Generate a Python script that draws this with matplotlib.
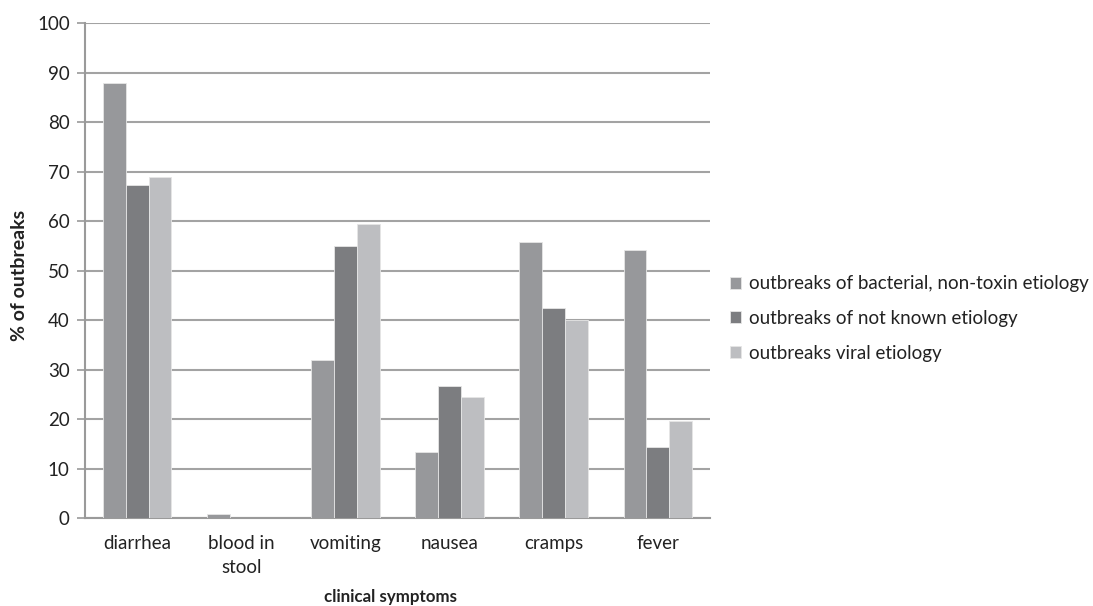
import numpy as np
import matplotlib.pyplot as plt

plt.rcParams['font.family'] = ['Lato', 'DejaVu Sans']

symptoms = ['diarrhea', 'blood in\nstool', 'vomiting', 'nausea', 'cramps', 'fever']
bacterial = [87.8, 0.8, 32.0, 13.4, 55.8, 54.2]
not_known = [67.3, 0.0, 54.9, 26.7, 42.5, 14.4]
viral = [68.9, 0.0, 59.4, 24.5, 40.1, 19.5]

series = [
    ('outbreaks of bacterial, non-toxin etiology', bacterial, '#97989b'),
    ('outbreaks of not known etiology', not_known, '#7c7d80'),
    ('outbreaks viral etiology', viral, '#bdbec1'),
]

fig = plt.figure(figsize=(10.93, 6.06), dpi=100)
ax = fig.add_axes([0.0778, 0.1452, 0.5718, 0.8168])

x = np.arange(len(symptoms))
w = 0.22
for i, (name, vals, col) in enumerate(series):
    ax.bar(x + (i - 1) * w, vals, w, color=col, label=name,
           edgecolor='#e6e6e6', linewidth=0.6, zorder=3)

ax.set_xlim(-0.5, len(symptoms) - 0.5)
ax.set_ylim(0, 100)
ax.set_yticks(range(0, 101, 10))
ax.set_xticks(x)
ax.set_xticklabels(symptoms, fontsize=13.5, color='#222222', linespacing=1.5)
ax.tick_params(axis='y', labelsize=13.5, labelcolor='#222222', color='#9a9a9a',
               length=6, width=1.2, pad=5)
ax.tick_params(axis='x', length=0, pad=12)

ax.grid(axis='y', color='#a3a3a3', linewidth=1.5, zorder=0)
for s in ['top', 'right']:
    ax.spines[s].set_visible(False)
for s in ['left', 'bottom']:
    ax.spines[s].set_color('#9a9a9a')
    ax.spines[s].set_linewidth(1.5)

# axis titles placed directly on the figure
fig.text(20 / 1093, 1 - 275 / 606, '% of outbreaks', rotation=90, ha='center',
         va='center', fontsize=14, fontweight='bold', color='#222222')
fig.text(391 / 1093, 1 - 597 / 606, 'clinical symptoms', ha='center', va='center',
         fontsize=12.2, fontweight='bold', color='#222222')

ax.legend(loc='center left', bbox_to_anchor=(1.032, 0.403), frameon=False,
          fontsize=13.5, handlelength=0.6, handleheight=0.6, handletextpad=0.4,
          labelspacing=0.95, borderpad=0, borderaxespad=0,
          labelcolor='#222222')

fig.savefig('out.png', dpi=100)
